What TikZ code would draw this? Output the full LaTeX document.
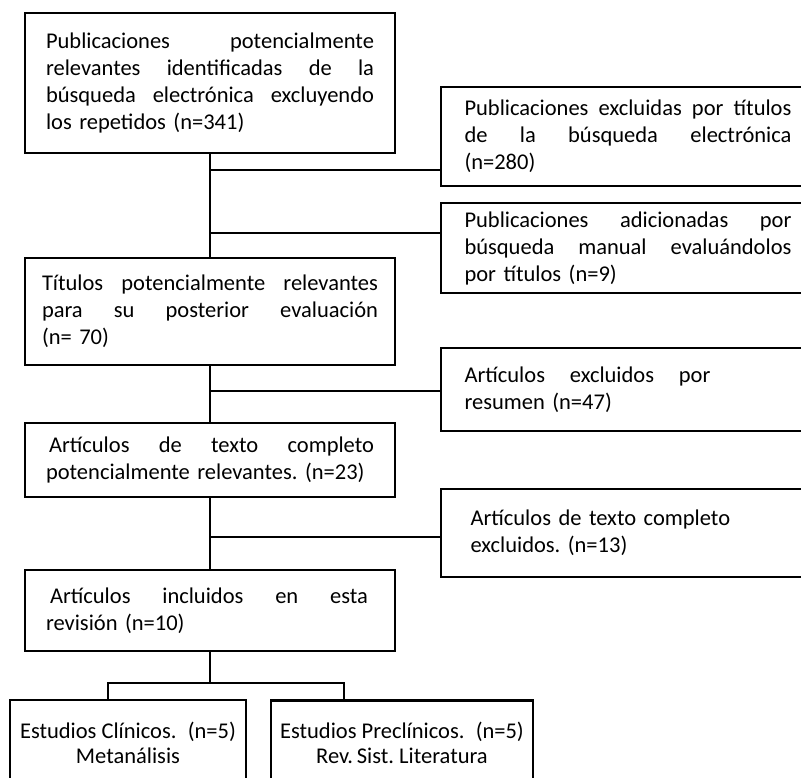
\documentclass[tikz,border=0pt]{standalone}
\usepackage{fontspec}
\setmainfont{Carlito}
\newcommand{\jl}[2]{\leavevmode\hbox to #1{#2}}
\begin{document}
\begin{tikzpicture}[x=1pt,y=-1pt,
  boxnode/.style={draw, line width=2.6pt, inner sep=0pt, align=left,
    font=\fontsize{22.5}{27}\selectfont\frenchspacing},
  conn/.style={line width=2.3pt}]
\useasboundingbox (0,0) rectangle (801,777);

\node[boxnode, minimum width=370pt, minimum height=140pt, text width=328pt] (b1) at (210,83)
 {\jl{328pt}{Publicaciones\hfill potencialmente}\\
  \jl{328pt}{relevantes \hfill identificadas \hfill de \hfill la}\\
  \jl{328pt}{búsqueda \hfill electrónica \hfill excluyendo}\\
  los repetidos (n=341)};

\node[boxnode, minimum width=374pt, minimum height=99pt, text width=327pt] (r1) at (628,136.5)
 {\jl{327pt}{Publicaciones \hfill excluidas \hfill por \hfill títulos}\\
  \jl{327pt}{de \hfill la \hfill búsqueda \hfill electrónica}\\
  (n=280)};

\node[boxnode, minimum width=374pt, minimum height=90pt, text width=327pt] (r2) at (628,248)
 {\jl{327pt}{Publicaciones \hfill adicionadas \hfill por}\\
  \jl{327pt}{búsqueda \hfill manual \hfill evaluándolos}\\
  por títulos (n=9)};

\node[boxnode, minimum width=370pt, minimum height=107pt, text width=336pt] (b2) at (210,311.5)
 {\jl{336pt}{Títulos \hfill potencialmente \hfill relevantes}\\
  \jl{336pt}{para \hfill su \hfill posterior \hfill evaluación}\\
  (n=~70)};

\node[boxnode, minimum width=374pt, minimum height=83pt, text width=327pt] (r3) at (628,389.5)
 {\jl{246pt}{Artículos \hfill excluidos \hfill por}\\
  resumen (n=47)};

\node[boxnode, minimum width=370pt, minimum height=74pt, text width=328pt] (b3) at (210,460)
 {\hspace*{3pt}\jl{325pt}{Artículos \hfill de \hfill texto \hfill completo}\\
  potencialmente relevantes. (n=23)};

\node[boxnode, minimum width=374pt, minimum height=88pt, text width=327pt] (r4) at (628,533)
 {\hspace*{6pt}Artículos de texto completo\\
  \hspace*{6pt}excluidos. (n=13)};

\node[boxnode, minimum width=370pt, minimum height=81pt, text width=328pt] (b4) at (210,610.5)
 {\hspace*{4pt}\jl{318pt}{Artículos \hfill incluidos \hfill en \hfill esta}\\
  revisión (n=10)};

\node[boxnode, align=center, minimum width=236pt, minimum height=85pt,
  font=\fontsize{22.5}{25}\selectfont\frenchspacing] (l5) at (128,742.5)
 {Estudios Clínicos.\enspace(n=5)\\ Metanálisis};

\node[boxnode, align=center, minimum width=262pt, minimum height=85pt,
  font=\fontsize{22.5}{25}\selectfont\frenchspacing] (r5) at (402,743)
 {Estudios Preclínicos.\enspace(n=5)\\ Rev.\,Sist. Literatura};

\coordinate (j1) at (210,170);
\coordinate (j2) at (210,233);
\coordinate (j3) at (210,391);
\coordinate (j4) at (210,537);
\coordinate (t0) at (210,683);
\coordinate (tl) at (108,683);
\coordinate (tr) at (344,683);

\draw[conn] (b1.south) -- (b2.north);
\draw[conn] (j1) -- (r1.west |- j1);
\draw[conn] (j2) -- (r2.west |- j2);
\draw[conn] (b2.south) -- (b3.north);
\draw[conn] (j3) -- (r3.west |- j3);
\draw[conn] (b3.south) -- (b4.north);
\draw[conn] (j4) -- (r4.west |- j4);
\draw[conn] (b4.south) -- (t0);
\draw[conn, line cap=rect] (tl) -- (tr);
\draw[conn] (tl) -- (tl |- l5.north);
\draw[conn] (tr) -- (tr |- r5.north);
\end{tikzpicture}
\end{document}
